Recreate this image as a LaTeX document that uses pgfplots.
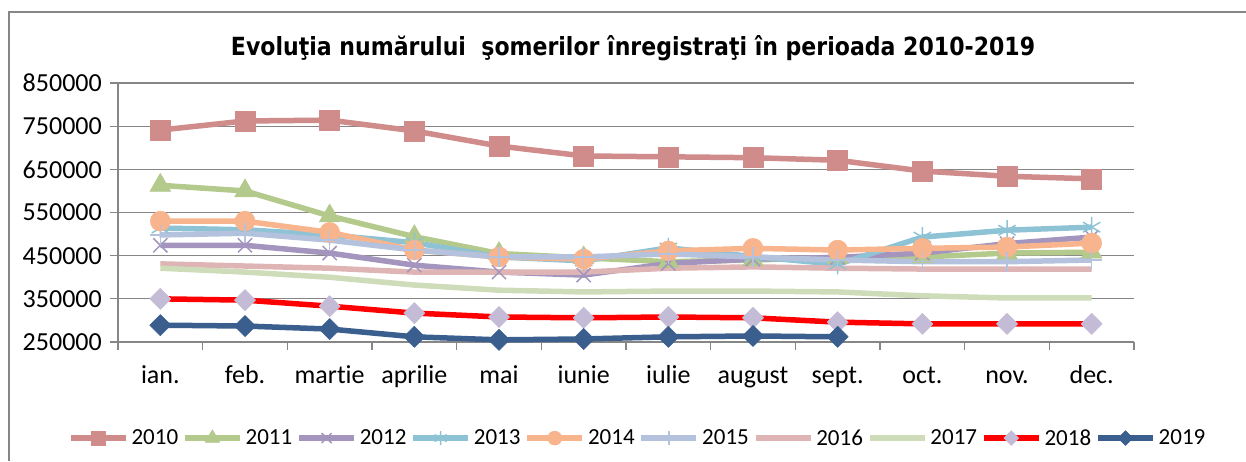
\documentclass[border=0pt]{standalone}
\usepackage{pgfplots}
\pgfplotsset{compat=1.18}
\usepackage{fontspec}
\setmainfont{Carlito}[Ligatures=NoCommon]
\newfontfamily\titlefont{DejaVu Sans}
\usepackage{graphicx}
\definecolor{c10}{RGB}{208,140,139}
\definecolor{c11}{RGB}{180,201,140}
\definecolor{c12}{RGB}{163,149,189}
\definecolor{c13}{RGB}{142,195,214}
\definecolor{c14}{RGB}{248,180,140}
\definecolor{c15}{RGB}{180,194,222}
\definecolor{c16}{RGB}{223,180,180}
\definecolor{c17}{RGB}{206,220,185}
\definecolor{c18}{RGB}{255,0,0}
\definecolor{c18m}{RGB}{196,188,214}
\definecolor{c19}{RGB}{58,94,142}
\definecolor{gridc}{RGB}{134,134,134}
\begin{document}
\begin{tikzpicture}
\path[use as bounding box] (0pt,0pt) rectangle (1246pt,-461pt);
\draw[gridc, line width=1.3pt] (9pt,-461pt) -- (9pt,-12pt) -- (1246pt,-12pt);
\node[anchor=base] at (633pt,-55pt) {\resizebox{804pt}{\height}{\titlefont\fontsize{25}{30}\selectfont\bfseries Evoluţia numărului\ \ şomerilor înregistraţi în perioada 2010-2019}};
\begin{axis}[
  at={(118pt,-342pt)}, anchor=south west,
  scale only axis, width=1016pt, height=259pt,
  xmin=-0.5, xmax=11.5, ymin=250000, ymax=850000,
  axis lines*=left,
  axis line style={gridc, line width=1.3pt},
  ytick={250000,350000,...,850000},
  scaled y ticks=false,
  /pgf/number format/fixed,
  /pgf/number format/set thousands separator={},
  /pgf/number format/assume math mode=true,
  ymajorgrids, grid style={gridc, line width=1.3pt},
  xtick={0,...,11},
  xticklabels={ian.,feb.,martie,aprilie,mai,iunie,iulie,august,sept.,oct.,nov.,dec.},
  minor xtick={-0.5,0.5,...,11.5},
  major x tick style={draw=none},
  tick align=outside, major tick length=8pt, minor tick length=8pt,
  tick style={gridc, line width=1.3pt},
  ticklabel style={font=\fontsize{26}{30}\selectfont},
  yticklabel style={anchor=east, inner sep=0pt, xshift=-8pt},
  xticklabel style={anchor=base, inner sep=0pt, yshift=-33pt},
  clip=false,
  legend columns=10,
  legend style={at={(0.511,-0.371)}, anchor=center, draw=none, fill=none,
    font=\fontsize{23}{27}\selectfont,
    nodes={inner sep=1pt},
    /tikz/every odd column/.append style={column sep=2pt},
    /tikz/every even column/.append style={column sep=3pt}},
  legend image code/.code={\draw[#1, every mark/.append style={scale=0.7}, mark repeat=2, mark phase=2] plot coordinates {(0pt,0pt)(27.5pt,0pt)(55pt,0pt)};},
  every axis plot/.append style={line width=5.5pt, line join=round},
]
\addplot[c10, mark=square*, mark size=10pt, mark options={solid, fill=c10, draw=c10, line width=0.5pt}] coordinates {
(0,741000)(1,762000)(2,764000)(3,739000)(4,704000)(5,681000)(6,679000)(7,677000)(8,671000)(9,646000)(10,634000)(11,628000)};
\addlegendentry{2010}
\addplot[c11, mark=triangle*, mark size=12pt, mark options={fill=c11, draw=c11, line width=0.5pt}] coordinates {
(0,613000)(1,600000)(2,542000)(3,494000)(4,455000)(5,445000)(6,436000)(7,440000)(8,446000)(9,447000)(10,456000)(11,458000)};
\addlegendentry{2011}
\addplot[c12, mark=x, mark size=10pt, mark options={draw=c12, line width=1.5pt}] coordinates {
(0,474000)(1,474000)(2,456000)(3,428000)(4,412000)(5,405000)(6,432000)(7,442000)(8,446000)(9,456000)(10,478000)(11,493000)};
\addlegendentry{2012}
\addplot[c13, mark=asterisk, mark size=10pt, mark options={draw=c13, line width=1.5pt}] coordinates {
(0,514000)(1,510000)(2,498000)(3,480000)(4,447000)(5,438000)(6,468000)(7,448000)(8,430000)(9,493000)(10,509000)(11,516000)};
\addlegendentry{2013}
\addplot[c14, mark=*, mark size=10pt, mark options={fill=c14, draw=c14, line width=0.5pt}] coordinates {
(0,530000)(1,530000)(2,504000)(3,463000)(4,447000)(5,442000)(6,461000)(7,467000)(8,463000)(9,467000)(10,470000)(11,479000)};
\addlegendentry{2014}
\addplot[c15, mark=+, mark size=10pt, mark options={draw=c15, line width=1.5pt}] coordinates {
(0,498000)(1,502000)(2,486000)(3,463000)(4,447000)(5,447000)(6,454000)(7,447000)(8,440000)(9,436000)(10,436000)(11,440000)};
\addlegendentry{2015}
\addplot[c16, no marks] coordinates {
(0,431000)(1,426000)(2,421000)(3,412000)(4,412000)(5,412000)(6,421000)(7,424000)(8,421000)(9,419000)(10,419000)(11,419000)};
\addlegendentry{2016}
\addplot[c17, no marks] coordinates {
(0,421000)(1,412000)(2,400000)(3,382000)(4,370000)(5,366000)(6,368000)(7,368000)(8,366000)(9,357000)(10,352000)(11,352000)};
\addlegendentry{2017}
\addplot[c18, mark=square*, mark size=7.5pt, mark options={rotate=45, fill=c18m, draw=c18m, line width=0.5pt}] coordinates {
(0,350000)(1,347000)(2,333000)(3,317000)(4,308000)(5,306000)(6,308000)(7,306000)(8,296000)(9,292000)(10,292000)(11,292000)};
\addlegendentry{2018}
\addplot[c19, mark=square*, mark size=7.5pt, mark options={rotate=45, fill=c19, draw=c19, line width=0.5pt}] coordinates {
(0,289000)(1,287000)(2,280000)(3,262000)(4,255000)(5,257000)(6,262000)(7,264000)(8,262000)};
\addlegendentry{2019}
\end{axis}
\end{tikzpicture}
\end{document}
